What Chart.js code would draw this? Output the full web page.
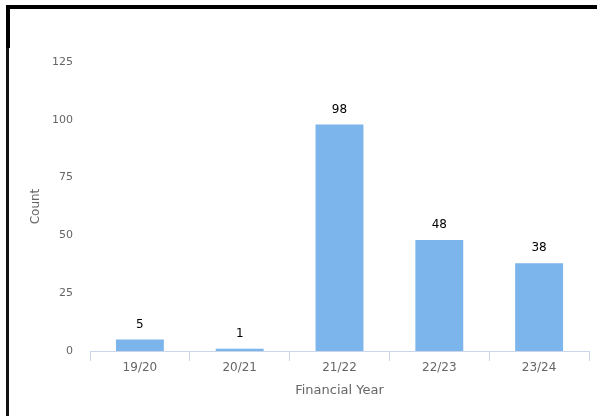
<!DOCTYPE html>
<html>
<head>
<meta charset="utf-8">
<script src="https://cdn.jsdelivr.net/npm/chart.js@4"></script>
<style>
html,body{margin:0;padding:0;background:#fff;}
#wrap{position:relative;width:597px;height:416px;overflow:hidden;}
#topline{position:absolute;left:6px;top:5px;width:591px;height:4px;background:#000;}
#leftline{position:absolute;left:6px;top:5px;width:3px;height:411px;background:#111;}
#leftthick{position:absolute;left:6px;top:5px;width:4px;height:43px;background:#000;}
canvas{position:absolute;left:0;top:0;}
</style>
</head>
<body>
<div id="wrap">
<canvas id="c" width="597" height="416"></canvas>
<div id="topline"></div>
<div id="leftline"></div>
<div id="leftthick"></div>
</div>
<script>
const categories = ["19/20", "20/21", "21/22", "22/23", "23/24"];
const counts = [5, 1, 98, 48, 38];
const yTicks = [0, 25, 50, 75, 100, 125];

const FONT = "'DejaVu Sans', sans-serif";

const dataLabels = {
  id: 'dataLabels',
  afterDatasetsDraw(chart) {
    const ctx = chart.ctx;
    ctx.save();
    ctx.font = "12px " + FONT;
    ctx.fillStyle = '#000';
    ctx.textAlign = 'center';
    ctx.textBaseline = 'middle';
    const meta = chart.getDatasetMeta(0);
    meta.data.forEach((bar, i) => {
      ctx.fillText(String(counts[i]), bar.x, bar.y - 15);
    });
    ctx.restore();
  }
};

new Chart(document.getElementById('c'), {
  type: 'bar',
  data: {
    labels: categories,
    datasets: [{
      data: counts,
      backgroundColor: '#7cb5ec',
      borderWidth: 0,
      barPercentage: 0.48,
      categoryPercentage: 1.0
    }]
  },
  options: {
    responsive: false,
    animation: false,
    layout: { padding: { left: 29, right: 8, top: 62, bottom: 18 } },
    plugins: { legend: { display: false }, tooltip: { enabled: false } },
    scales: {
      x: {
        offset: true,
        grid: { display: true, offset: true, drawOnChartArea: false, drawTicks: true, tickLength: 10, color: '#ccd6eb' },
        border: { display: true, color: '#ccd6eb' },
        ticks: { color: '#666', font: { family: FONT, size: 12 }, padding: 0 },
        title: { display: true, text: 'Financial Year', color: '#666', font: { family: FONT, size: 13 }, padding: { top: 7, bottom: 0 } }
      },
      y: {
        min: 0, max: 125,
        afterBuildTicks(scale) { scale.ticks = yTicks.map(v => ({ value: v })); },
        afterFit(scale) { scale.width = 61; },
        grid: { display: false, drawTicks: false },
        border: { display: false },
        ticks: { color: '#666', font: { family: FONT, size: 11 }, padding: 17 },
        title: { display: true, text: 'Count', color: '#666', font: { family: FONT, size: 12 }, padding: { top: 0, bottom: 0 } }
      }
    }
  },
  plugins: [dataLabels]
});
</script>
</body>
</html>
